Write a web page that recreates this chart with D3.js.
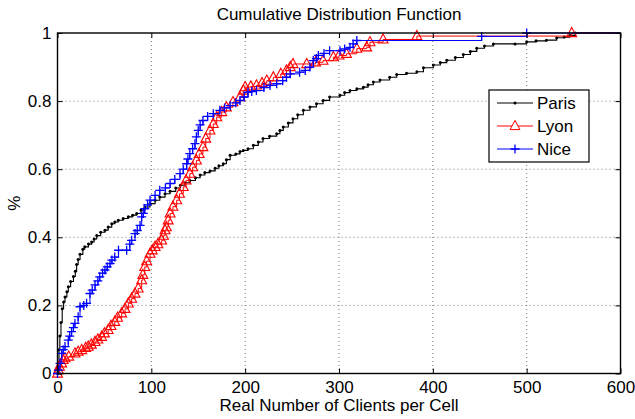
<!DOCTYPE html>
<html>
<head>
<meta charset="utf-8">
<script src="https://cdn.jsdelivr.net/npm/d3@7"></script>
<style>
  html, body { margin: 0; padding: 0; background: #fff; }
  svg text { font-family: "Liberation Sans", Arial, Helvetica, sans-serif; fill: #000; }
</style>
</head>
<body>
<svg id="chart" width="635" height="419"></svg>
<script>
// ---- Data ----
const chartTitle = "Cumulative Distribution Function";
const xLabel = "Real Number of Clients per Cell";
const yLabel = "%";
const xTickValues = [0, 100, 200, 300, 400, 500, 600];
const xTickLabels = ["0", "100", "200", "300", "400", "500", "600"];
const yTickValues = [0, 0.2, 0.4, 0.6, 0.8, 1];
const yTickLabels = ["0", "0.2", "0.4", "0.6", "0.8", "1"];
const seriesNames = ["Paris", "Lyon", "Nice"];

const parisX = [0,1,1.6,2.5,3.7,5,6.5,8,10,11.5,14,17,19,20.4,22,24,27,29,33,36.4,39,41.8,46,50.6,54,57.8,61,64.8,70,75.5,80,84.4,89,93,98.6,104,109,114.6,120,126,131,136,141,147,152,157,162.5,168,172,176.7,180,184,190,194.5,198,203,208.7,214,219,226,233.6,237,240.6,246,251,256,262,269,276,283,290,301,306,311.7,319,326,331,336.6,343.7,354,361.5,372,383,390,400.5,408,414.8,424,432.5,440,446.8,455,464.5,487.6,500,510,521,532,540,546,552,600];
const parisY = [0,0.03,0.07,0.11,0.15,0.19,0.21,0.225,0.24,0.255,0.27,0.285,0.3,0.32,0.335,0.35,0.365,0.372,0.38,0.386,0.395,0.405,0.415,0.421,0.43,0.44,0.445,0.45,0.455,0.46,0.465,0.47,0.48,0.489,0.499,0.509,0.518,0.528,0.535,0.545,0.553,0.56,0.567,0.575,0.583,0.59,0.595,0.603,0.61,0.616,0.628,0.641,0.645,0.652,0.655,0.66,0.67,0.68,0.69,0.697,0.704,0.714,0.724,0.736,0.748,0.76,0.773,0.783,0.792,0.802,0.812,0.817,0.825,0.831,0.836,0.841,0.848,0.856,0.862,0.87,0.878,0.882,0.886,0.898,0.906,0.913,0.92,0.928,0.937,0.946,0.955,0.962,0.968,0.968,0.974,0.977,0.979,0.986,0.988,0.993,1.0,1.0];

const lyonX = [0,1,2,4.5,6,8,12,18.6,22,25.8,30,32.8,36,40,43,47,50,54,57,61,64,68.4,72,75.5,79,82.6,86,89.7,91,93,95,98.6,101,104,107,111,113,114.6,116,118,120,123,127,130,134,137,141,144,148,151,155,158,162.5,166,169.7,175,180,187,194.5,198,200,206,212,218,223,230,238,244,248,251,265.6,275,283,294,300,308,319,329.5,333,347,383,548];
const lyonY = [0,0.01,0.02,0.03,0.04,0.045,0.05,0.059,0.064,0.069,0.075,0.079,0.085,0.093,0.1,0.108,0.118,0.128,0.14,0.152,0.164,0.177,0.19,0.206,0.22,0.235,0.25,0.274,0.29,0.313,0.33,0.352,0.362,0.372,0.38,0.391,0.405,0.421,0.43,0.45,0.47,0.49,0.509,0.528,0.548,0.567,0.587,0.606,0.626,0.645,0.665,0.69,0.714,0.733,0.753,0.768,0.782,0.797,0.812,0.831,0.841,0.843,0.846,0.853,0.86,0.87,0.88,0.89,0.9,0.909,0.909,0.914,0.919,0.929,0.934,0.939,0.954,0.958,0.973,0.981,0.991,1.0];

const niceX = [0,1,2.7,4.5,6,8,11.5,13,15,17,18.6,22,24,28,31,34.6,37,40,43,45,48,50.6,53,56,58,61,65,73.7,77,79,82.6,85,88,89.7,91.4,93,96,98.6,104,109,115,120,125,130.6,134,137.7,139,141,144,146.5,148,150,152,155,160,166,173,178,184,190,194.5,199,203,207,212,220,226.5,233.6,240,244,248,258,264,269,272.6,276,278,284,290,301,306,311.7,315,319,452,500];
const niceY = [0,0.01,0.03,0.059,0.07,0.079,0.098,0.11,0.123,0.135,0.147,0.167,0.196,0.2,0.206,0.235,0.245,0.26,0.272,0.284,0.295,0.304,0.313,0.323,0.333,0.342,0.362,0.362,0.38,0.391,0.411,0.42,0.435,0.46,0.47,0.484,0.495,0.509,0.523,0.538,0.545,0.558,0.57,0.587,0.6,0.616,0.63,0.646,0.66,0.675,0.695,0.714,0.73,0.743,0.755,0.763,0.773,0.78,0.787,0.795,0.802,0.812,0.826,0.828,0.831,0.84,0.846,0.851,0.86,0.87,0.88,0.885,0.89,0.9,0.919,0.925,0.934,0.94,0.948,0.948,0.953,0.958,0.968,0.978,0.99,1.0];

// ---- Layout ----
const svg = d3.select("#chart");
const pLeft = 57.5, pRight = 620.5, pTop = 33, pBottom = 373.5;
const x = d3.scaleLinear().domain([0, 600]).range([pLeft, pRight]);
const y = d3.scaleLinear().domain([0, 1]).range([pBottom, pTop]);
const FS = 17;

// grid
const grid = svg.append("g");
grid.selectAll("line.gx").data(xTickValues.filter(v => v > 0 && v < 600)).enter()
  .append("line").attr("x1", d => x(d)).attr("x2", d => x(d)).attr("y1", pTop).attr("y2", pBottom)
  .attr("stroke", "#777").attr("stroke-width", 1).attr("stroke-dasharray", "1,3");
grid.selectAll("line.gy").data(yTickValues.filter(v => v > 0 && v < 1)).enter()
  .append("line").attr("y1", d => y(d)).attr("y2", d => y(d)).attr("x1", pLeft).attr("x2", pRight)
  .attr("stroke", "#777").attr("stroke-width", 1).attr("stroke-dasharray", "1,3");

// series
const mk = (xs, ys) => xs.map((v, i) => [v, ys[i]]);
const paris = mk(parisX, parisY);
const lyon = mk(lyonX, lyonY);
const nice = mk(niceX, niceY);

const line = d3.line().x(d => x(d[0])).y(d => y(d[1])).curve(d3.curveStepAfter);
const plot = svg.append("g");

const triPath = s => `M0,${-s*0.62}L${s*0.55},${s*0.4}L${-s*0.55},${s*0.4}Z`;
const plusPath = s => `M${-s/2},0H${s/2}M0,${-s/2}V${s/2}`;

// Paris
plot.append("path").datum(paris).attr("d", line).attr("fill", "none").attr("stroke", "#000").attr("stroke-width", 1.1);
plot.selectAll("circle.paris").data(paris.slice(0, -1)).enter().append("circle")
  .attr("cx", d => x(d[0])).attr("cy", d => y(d[1])).attr("r", 1.5).attr("fill", "#000");

// Lyon
plot.append("path").datum(lyon.concat([[600, 1]])).attr("d", line).attr("fill", "none").attr("stroke", "#f00").attr("stroke-width", 1);
plot.selectAll("path.lyon").data(lyon).enter().append("path")
  .attr("transform", d => `translate(${x(d[0])},${y(d[1])})`).attr("d", triPath(9))
  .attr("fill", "none").attr("stroke", "#f00").attr("stroke-width", 1.1);

// Nice
plot.append("path").datum(nice.concat([[600, 1]])).attr("d", line).attr("fill", "none").attr("stroke", "#00f").attr("stroke-width", 1);
plot.selectAll("path.nice").data(nice).enter().append("path")
  .attr("transform", d => `translate(${x(d[0])},${y(d[1])})`).attr("d", plusPath(9))
  .attr("fill", "none").attr("stroke", "#00f").attr("stroke-width", 1.3);

// axes (inward ticks, all four sides)
const axB = svg.append("g").attr("transform", `translate(0,${pBottom})`)
  .call(d3.axisBottom(x).tickValues(xTickValues).tickFormat((d, i) => xTickLabels[i]).tickSize(-5).tickPadding(7.5));
const axT = svg.append("g").attr("transform", `translate(0,${pTop})`)
  .call(d3.axisTop(x).tickValues(xTickValues).tickFormat("").tickSize(-5));
const axL = svg.append("g").attr("transform", `translate(${pLeft},0)`)
  .call(d3.axisLeft(y).tickValues(yTickValues).tickFormat((d, i) => yTickLabels[i]).tickSize(-5).tickPadding(6));
const axR = svg.append("g").attr("transform", `translate(${pRight},0)`)
  .call(d3.axisRight(y).tickValues(yTickValues).tickFormat("").tickSize(-5));
[axB, axT, axL, axR].forEach(a => {
  a.select(".domain").remove();
  a.selectAll(".tick line").attr("stroke", "#000").attr("stroke-width", 1);
  a.selectAll("text").attr("font-size", FS).attr("font-family", null);
});

// box
svg.append("rect").attr("x", pLeft).attr("y", pTop).attr("width", pRight - pLeft).attr("height", pBottom - pTop)
  .attr("fill", "none").attr("stroke", "#000").attr("stroke-width", 1.4);

// titles
svg.append("text").attr("x", (pLeft + pRight) / 2).attr("y", 20).attr("text-anchor", "middle")
  .attr("font-size", FS).text(chartTitle);
svg.append("text").attr("x", (pLeft + pRight) / 2).attr("y", 411).attr("text-anchor", "middle")
  .attr("font-size", FS).text(xLabel);
svg.append("text").attr("transform", `translate(20,${(pTop + pBottom) / 2}) rotate(-90)`).attr("text-anchor", "middle")
  .attr("font-size", FS).text(yLabel);

// legend
const lg = svg.append("g");
lg.append("rect").attr("x", 489).attr("y", 90).attr("width", 100).attr("height", 72)
  .attr("fill", "#fff").attr("stroke", "#000").attr("stroke-width", 1.2);
const colors = ["#000", "#f00", "#00f"];
seriesNames.forEach((name, i) => {
  const cy = 103 + i * 23;
  lg.append("line").attr("x1", 497).attr("x2", 533).attr("y1", cy).attr("y2", cy).attr("stroke", colors[i]).attr("stroke-width", 1);
  if (i === 0) lg.append("circle").attr("cx", 515).attr("cy", cy).attr("r", 1.5).attr("fill", "#000");
  if (i === 1) lg.append("path").attr("transform", `translate(515,${cy})`).attr("d", triPath(9)).attr("fill", "#fff").attr("stroke", "#f00");
  if (i === 2) lg.append("path").attr("transform", `translate(515,${cy})`).attr("d", plusPath(9)).attr("fill", "none").attr("stroke", "#00f").attr("stroke-width", 1.3);
  lg.append("text").attr("x", 537).attr("y", cy + 6).attr("font-size", FS).text(name);
});
</script>
</body>
</html>
